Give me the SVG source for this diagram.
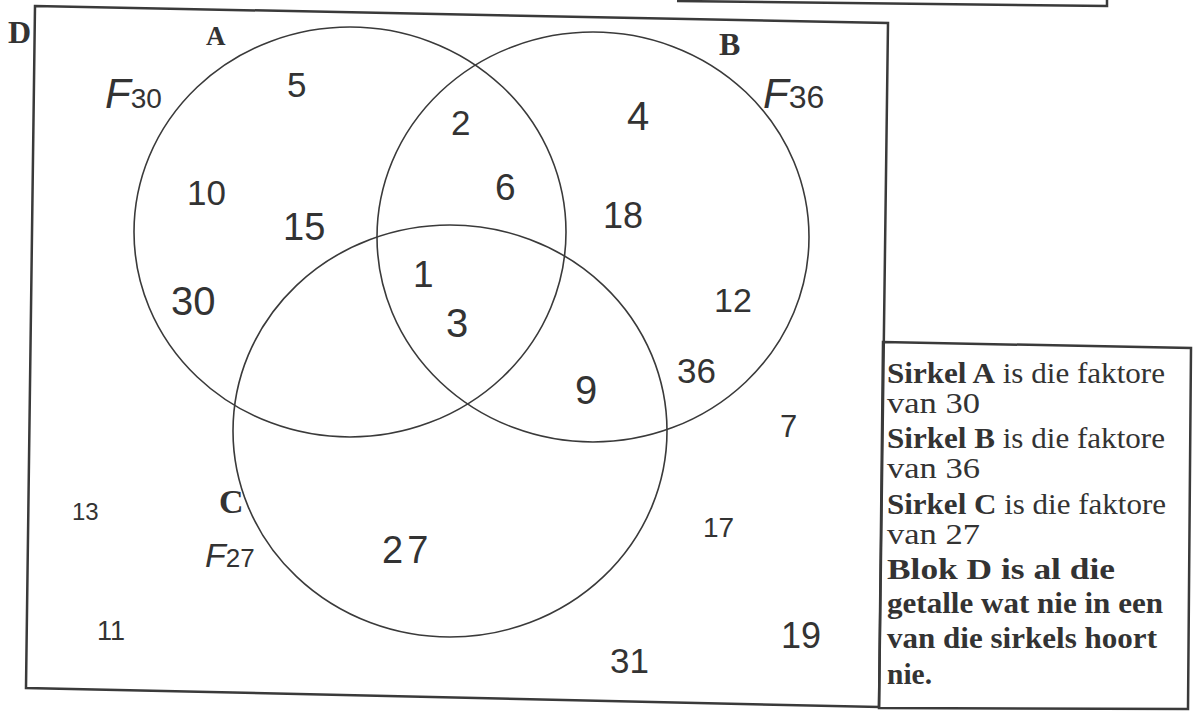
<svg xmlns="http://www.w3.org/2000/svg" width="1196" height="711" viewBox="0 0 1196 711">
<style>
.frame{fill:none;stroke:#3a3a3a;stroke-width:2.5;stroke-linejoin:miter}
.circ{fill:none;stroke:#3a3a3a;stroke-width:1.6}
.hw{font-family:"Liberation Sans","DejaVu Sans",sans-serif;fill:#333}
.lbl{font-family:"Liberation Serif","DejaVu Serif",serif;font-weight:bold;fill:#333}
.info{font-family:"Liberation Serif","DejaVu Serif",serif;font-size:29px;fill:#333}
.b{font-weight:bold}
</style>
<rect width="1196" height="711" fill="#ffffff"/>
<g id="top-fragment">
<polyline class="frame" points="677,1 1107,6 1107,0"/>
</g>
<g id="block-D">
<polygon class="frame" points="35,6 888,23 879,707 26,688"/>
<text class="lbl" x="8" y="43" font-size="32">D</text>
</g>
<g id="circle-A">
<ellipse class="circ" cx="350" cy="232" rx="216" ry="205"/>
<text class="lbl" x="206" y="45" font-size="27">A</text>
<text class="hw" x="105" y="108"><tspan font-size="42" font-style="italic">F</tspan><tspan font-size="28">30</tspan></text>
</g>
<g id="circle-B">
<ellipse class="circ" cx="593" cy="237" rx="216" ry="205"/>
<text class="lbl" x="719" y="55" font-size="32">B</text>
<text class="hw" x="763" y="108"><tspan font-size="42" font-style="italic">F</tspan><tspan font-size="32">36</tspan></text>
</g>
<g id="circle-C">
<ellipse class="circ" cx="450" cy="431" rx="217" ry="206"/>
<text class="lbl" x="219" y="513" font-size="34">C</text>
<text class="hw" x="205" y="567"><tspan font-size="34" font-style="italic">F</tspan><tspan font-size="26">27</tspan></text>
</g>
<g id="numbers">
<text class="hw" x="287" y="97" font-size="35">5</text>
<text class="hw" x="451" y="135" font-size="35">2</text>
<text class="hw" x="627" y="130" font-size="40">4</text>
<text class="hw" x="495" y="200" font-size="37">6</text>
<text class="hw" x="603" y="228" font-size="36">18</text>
<text class="hw" x="187" y="205" font-size="35">10</text>
<text class="hw" x="283" y="240" font-size="38">15</text>
<text class="hw" x="171" y="315" font-size="40">30</text>
<text class="hw" x="413" y="287" font-size="37">1</text>
<text class="hw" x="446" y="337" font-size="40">3</text>
<text class="hw" x="714" y="312" font-size="34">12</text>
<text class="hw" x="677" y="383" font-size="35">36</text>
<text class="hw" x="575" y="404" font-size="40">9</text>
<text class="hw" x="780" y="437" font-size="31">7</text>
<text class="hw" x="72" y="520" font-size="24">13</text>
<text class="hw" x="382" y="563" font-size="38" letter-spacing="4">27</text>
<text class="hw" x="703" y="537" font-size="28">17</text>
<text class="hw" x="97" y="640" font-size="27">11</text>
<text class="hw" x="781" y="648" font-size="36">19</text>
<text class="hw" x="610" y="673" font-size="35">31</text>
</g>
<g id="info-box">
<polygon class="frame" points="883,342 1191,348 1188,709 879,708"/>
<text class="info" x="887" y="383" textLength="278" lengthAdjust="spacingAndGlyphs"><tspan class="b">Sirkel A</tspan> is die faktore</text>
<text class="info" x="887" y="413" textLength="93" lengthAdjust="spacingAndGlyphs">van 30</text>
<text class="info" x="887" y="448" textLength="278" lengthAdjust="spacingAndGlyphs"><tspan class="b">Sirkel B</tspan> is die faktore</text>
<text class="info" x="887" y="478" textLength="93" lengthAdjust="spacingAndGlyphs">van 36</text>
<text class="info" x="887" y="514" textLength="279" lengthAdjust="spacingAndGlyphs"><tspan class="b">Sirkel C</tspan> is die faktore</text>
<text class="info" x="887" y="544" textLength="93" lengthAdjust="spacingAndGlyphs">van 27</text>
<text class="info b" x="887" y="579" textLength="228" lengthAdjust="spacingAndGlyphs">Blok D is al die</text>
<text class="info b" x="887" y="613" textLength="276" lengthAdjust="spacingAndGlyphs">getalle wat nie in een</text>
<text class="info b" x="887" y="648" textLength="270" lengthAdjust="spacingAndGlyphs">van die sirkels hoort</text>
<text class="info b" x="887" y="684" textLength="45" lengthAdjust="spacingAndGlyphs">nie.</text>
</g>
</svg>
